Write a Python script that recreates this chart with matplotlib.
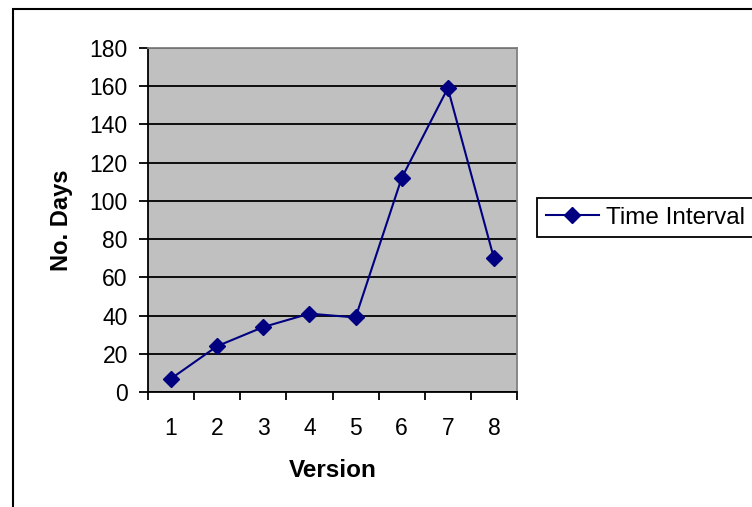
import matplotlib
matplotlib.use("Agg")
import matplotlib.pyplot as plt
from matplotlib.patches import Rectangle
from matplotlib.lines import Line2D
import numpy as np

plt.rcParams['font.family'] = ['Liberation Sans', 'DejaVu Sans']

versions = ["1", "2", "3", "4", "5", "6", "7", "8"]
days = [7, 24, 34, 41, 39, 112, 159, 70]
y_ticks = [0, 20, 40, 60, 80, 100, 120, 140, 160, 180]
series_name = "Time Interval"

W, H = 752, 507
fig = plt.figure(figsize=(W / 100, H / 100), dpi=100)

# outer chart border (top and left edges visible)
fig.add_artist(Rectangle((13 / W, -0.1), 1.2, 1 - 9 / H + 0.1,
                         transform=fig.transFigure, fill=False,
                         edgecolor='black', linewidth=1.5, clip_on=False))

ax = fig.add_axes([148 / W, 1 - 392 / H, (517 - 148) / W, (392 - 48) / H])
ax.set_facecolor('#C0C0C0')

x = np.arange(1, len(versions) + 1)
navy = '#000080'
ax.plot(x, days, color=navy, linewidth=1.5, marker='D', markersize=8.5,
        markerfacecolor=navy, markeredgecolor=navy, zorder=3)

ax.set_xlim(0.5, len(versions) + 0.5)
ax.set_ylim(0, 180)
ax.set_yticks(y_ticks)
ax.yaxis.grid(True, color='black', linewidth=1.3)
ax.set_axisbelow(True)

# category axis: ticks on boundaries, labels centred
ax.set_xticks(np.arange(0.5, len(versions) + 1, 1.0))
ax.set_xticklabels([])
ax.set_xticks(x, minor=True)
ax.set_xticklabels(versions, minor=True)
ax.tick_params(axis='x', which='major', direction='out', length=6, width=1.3, color='black')
ax.tick_params(axis='x', which='minor', length=0, pad=18, labelsize=16.5)
ax.tick_params(axis='y', direction='out', length=6.5, width=1.3, pad=8, labelsize=16.5)

for side in ('left', 'bottom'):
    ax.spines[side].set_color('black')
    ax.spines[side].set_linewidth(1.3)
for side in ('top', 'right'):
    ax.spines[side].set_color('#808080')
    ax.spines[side].set_linewidth(1.3)

ax.set_xlabel("Version", fontsize=17.5, fontweight='bold', labelpad=13.5)
ax.set_ylabel("No. Days", fontsize=17, fontweight='bold', labelpad=12)

handle = Line2D([], [], color=navy, linewidth=1.5, marker='D', markersize=8.5,
                markerfacecolor=navy, markeredgecolor=navy)
leg = fig.legend([handle], [series_name], loc='upper left',
                 bbox_to_anchor=(537 / W, 1 - 198 / H), bbox_transform=fig.transFigure,
                 fontsize=17.5, frameon=True, fancybox=False, framealpha=1,
                 edgecolor='black', borderpad=0.35, handlelength=2.2,
                 handletextpad=0.3, borderaxespad=0)
leg.get_frame().set_linewidth(1.3)

fig.savefig("out.png", dpi=100)
